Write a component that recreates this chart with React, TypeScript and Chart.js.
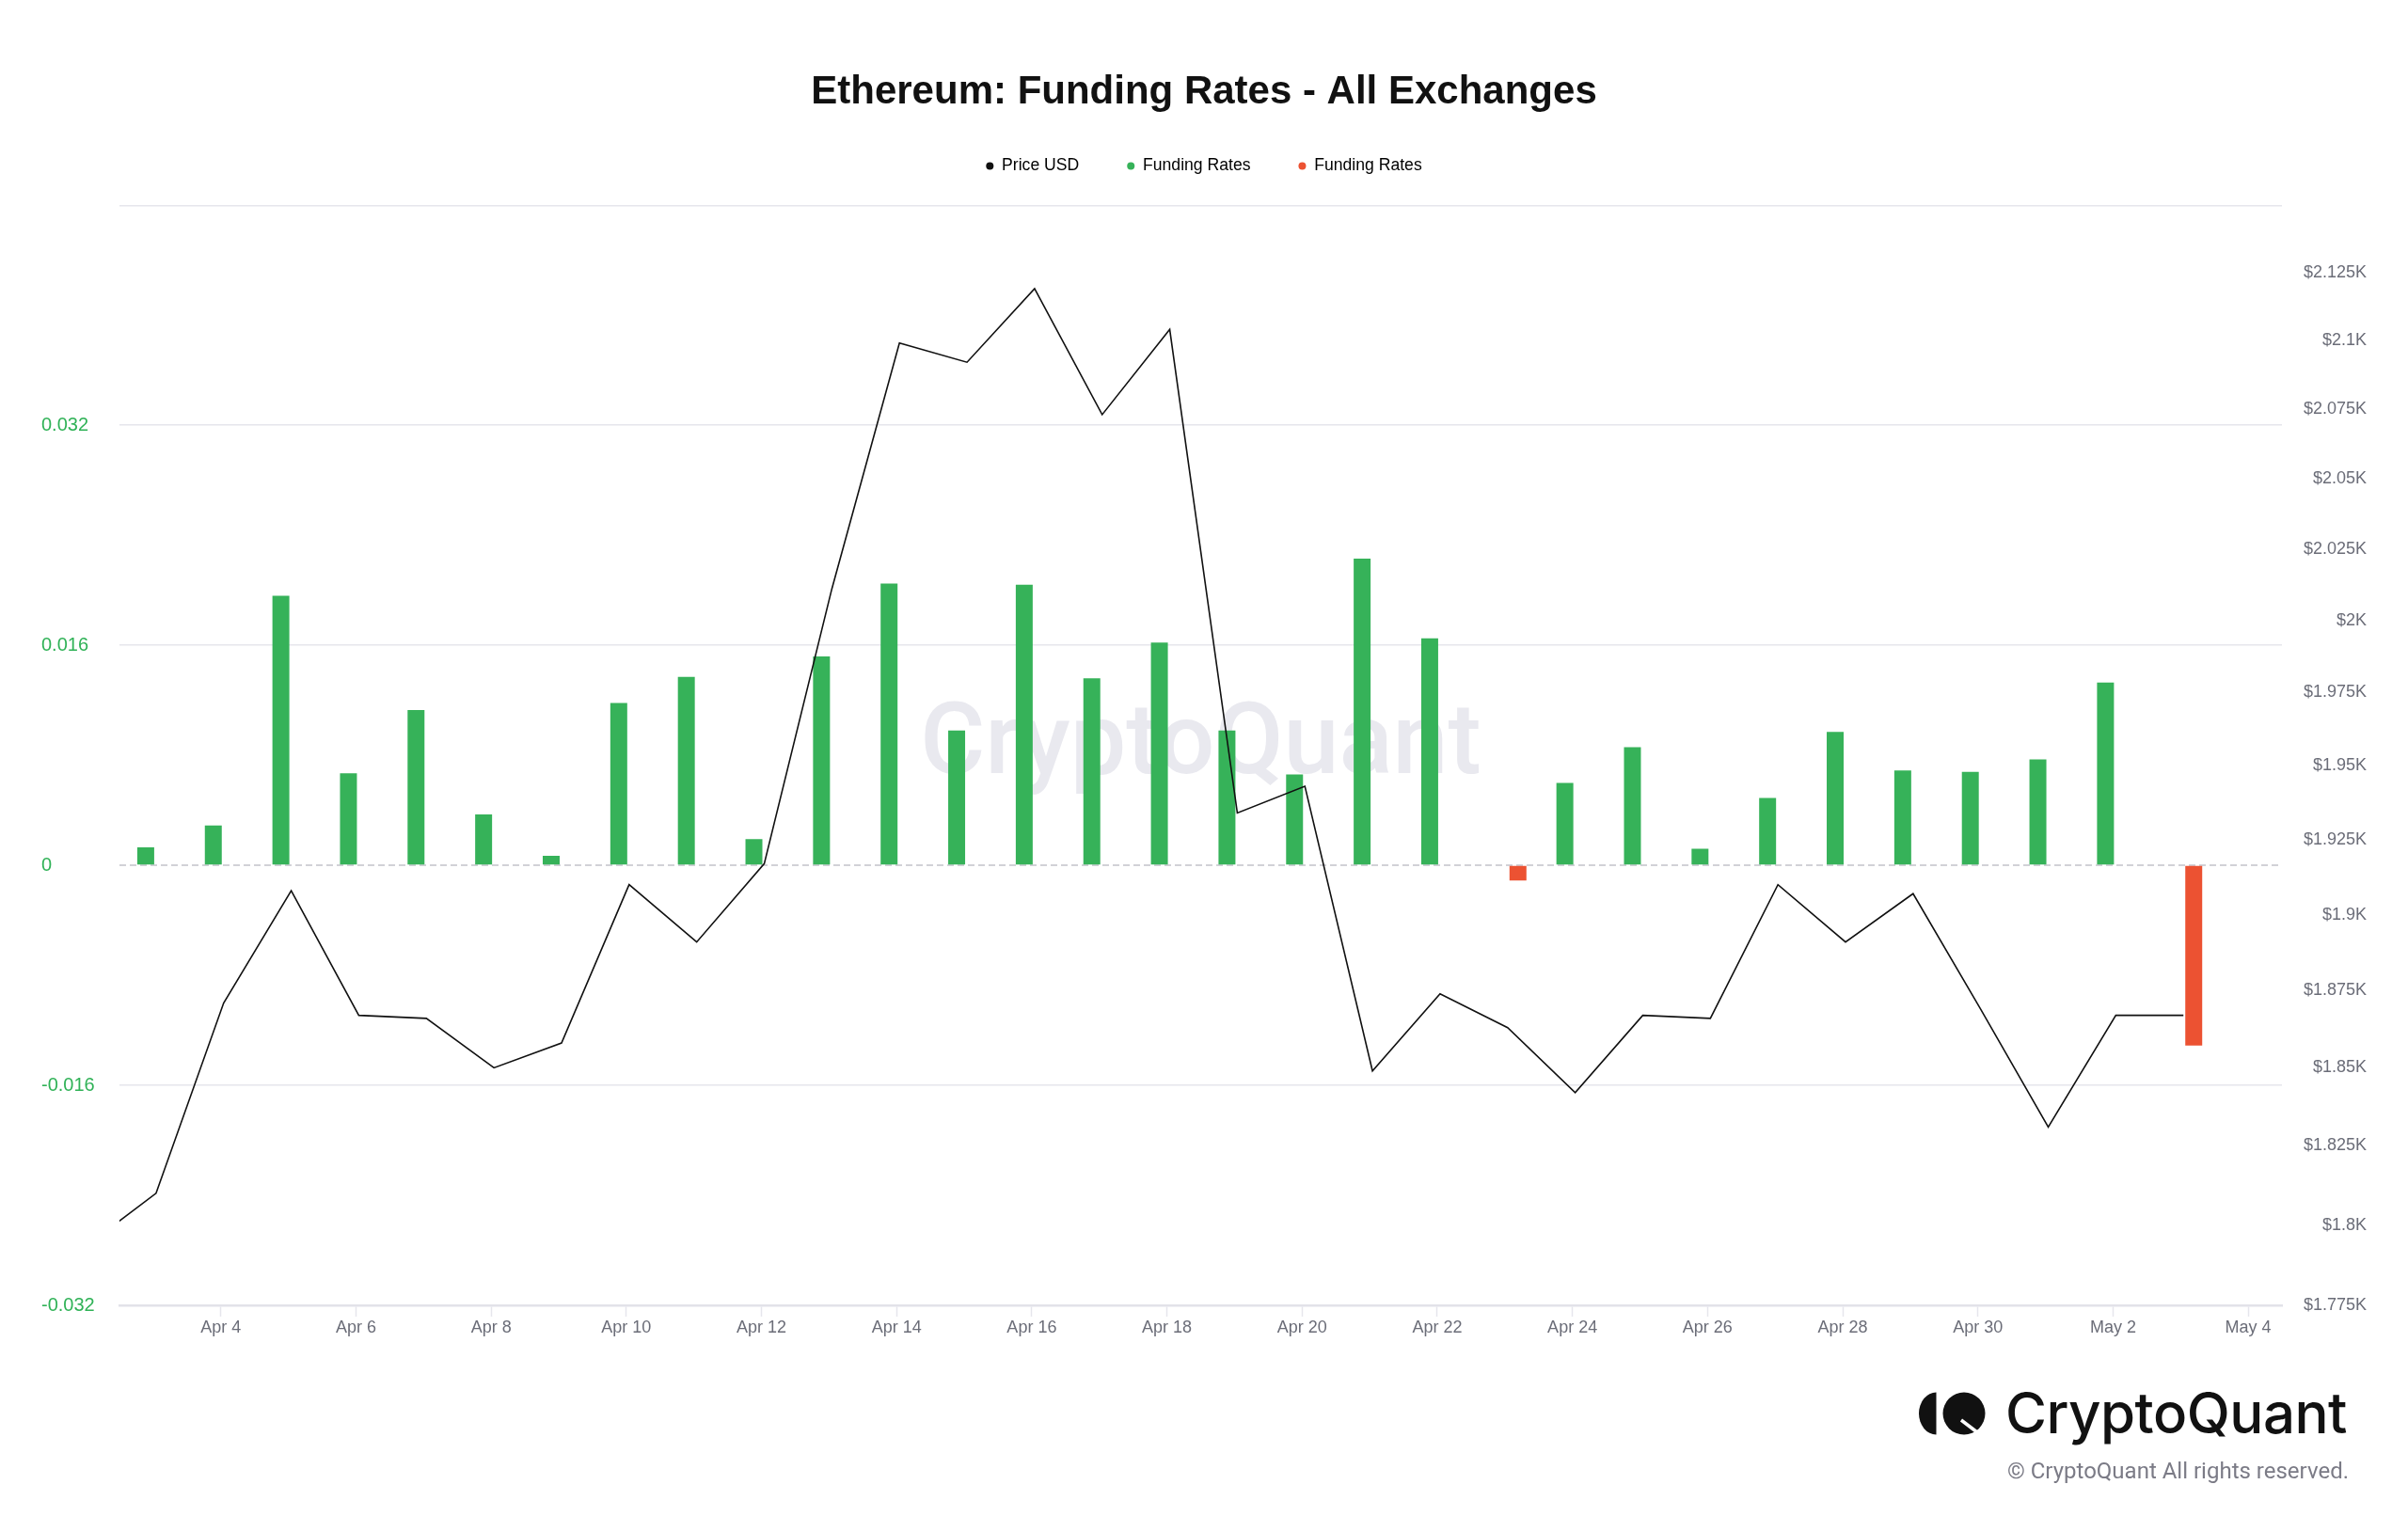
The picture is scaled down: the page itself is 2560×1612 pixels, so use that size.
import { useEffect, useRef } from "react";
import { Chart, registerables } from "chart.js";

Chart.register(...registerables);

const FONT = "'Liberation Sans', Arial, Helvetica, sans-serif";
Chart.defaults.font.family = FONT;

const DATES = [
    "2023-04-02", "2023-04-03", "2023-04-04", "2023-04-05", "2023-04-06", "2023-04-07",
    "2023-04-08", "2023-04-09", "2023-04-10", "2023-04-11", "2023-04-12", "2023-04-13",
    "2023-04-14", "2023-04-15", "2023-04-16", "2023-04-17", "2023-04-18", "2023-04-19",
    "2023-04-20", "2023-04-21", "2023-04-22", "2023-04-23", "2023-04-24", "2023-04-25",
    "2023-04-26", "2023-04-27", "2023-04-28", "2023-04-29", "2023-04-30", "2023-05-01",
    "2023-05-02", "2023-05-03",
];

const PRICE_USD = [
    1794, 1810, 1871, 1908, 1867, 1866, 1850, 1858, 1910, 1891, 1917, 2011,
    2099, 2092, 2119, 2073, 2104, 1934, 1943, 1849, 1874, 1863, 1842, 1867,
    1866, 1910, 1891, 1907, 1869, 1831, 1867, 1867,
];

const FUNDING_RATES: (number | null)[] = [
    null, 0.0013, 0.0029, 0.0196, 0.0067, 0.0113, 0.0037, 0.0007, 0.0118, 0.0137, 0.0019, 0.0152,
    0.0205, 0.0098, 0.0204, 0.0136, 0.0162, 0.0098, 0.0066, 0.0223, 0.0165, -0.0011, 0.006, 0.0086,
    0.0012, 0.0049, 0.0097, 0.0069, 0.0068, 0.0077, 0.0133, -0.0131,
];

const TICK_DATES = [
    "2023-04-04", "2023-04-06", "2023-04-08", "2023-04-10", "2023-04-12", "2023-04-14",
    "2023-04-16", "2023-04-18", "2023-04-20", "2023-04-22", "2023-04-24", "2023-04-26",
    "2023-04-28", "2023-04-30", "2023-05-02", "2023-05-04",
];
const TICK_LABELS = [
    "Apr 4", "Apr 6", "Apr 8", "Apr 10", "Apr 12", "Apr 14", "Apr 16", "Apr 18",
    "Apr 20", "Apr 22", "Apr 24", "Apr 26", "Apr 28", "Apr 30", "May 2", "May 4",
];

const RATE_TICKS = [-0.032, -0.016, 0, 0.016, 0.032, 0.048];
const RATE_TICK_LABELS = ["-0.032", "-0.016", "0", "0.016", "0.032", ""];

const PRICE_TICKS = [
    1775, 1800, 1825, 1850, 1875, 1900, 1925, 1950, 1975, 2000, 2025, 2050, 2075, 2100, 2125,
];
const PRICE_TICK_LABELS = [
    "$1.775K", "$1.8K", "$1.825K", "$1.85K", "$1.875K", "$1.9K", "$1.925K", "$1.95K",
    "$1.975K", "$2K", "$2.025K", "$2.05K", "$2.075K", "$2.1K", "$2.125K",
];

const SERIES_NAMES = ["Price USD", "Funding Rates", "Funding Rates"];
const SERIES_COLORS = ["#111111", "#36b259", "#ec5232"];

const GRID = "#e6e6ec";
const AXIS_TEXT = "#6b6d78";
const RATE_TEXT = "#30b257";

// data is stamped at 01:00 local time, axis runs from noon to noon
const DAY_MS = 86400000;
const STAMP_OFFSET = 1 / 24;
const toDay = (iso: string) => {
    const [y, m, d] = iso.split("-").map(Number);
    return (Date.UTC(y, m - 1, d) - Date.UTC(2023, 3, 0)) / DAY_MS;
};
const toX = (iso: string) => toDay(iso) + STAMP_OFFSET;

const backdrop = {
    id: "backdrop",
    beforeDatasetsDraw(chart: Chart) {
        const { ctx, chartArea: a, scales } = chart;
        ctx.save();
        ctx.font = "500 106px Roboto";
        ctx.fillStyle = "#e9e9ef";
        ctx.textAlign = "center";
        ctx.textBaseline = "middle";
        ctx.fillText("CryptoQuant", (a.left + a.right) / 2, (a.top + a.bottom) / 2 - 8);

        const y0 = scales.rate.getPixelForValue(0);
        ctx.strokeStyle = "#c2c2ca";
        ctx.lineWidth = 1.5;
        ctx.setLineDash([7, 4]);
        ctx.beginPath();
        ctx.moveTo(a.left, y0);
        ctx.lineTo(a.right, y0);
        ctx.stroke();
        ctx.restore();
    },
};

const FundingChart = () => {
    const canvasRef = useRef<HTMLCanvasElement | null>(null);

    useEffect(() => {
        document.body.style.margin = "0";
        document.body.style.overflow = "hidden";
        if (!canvasRef.current) return;
        const ctx = canvasRef.current.getContext("2d");
        if (!ctx) return;

        const price = DATES.map((d, i) => ({ x: toX(d), y: PRICE_USD[i] }));
        const positive = DATES.map((d, i) => {
            const v = FUNDING_RATES[i];
            return { x: toX(d), y: v !== null && v >= 0 ? v : null };
        });
        const negative = DATES.map((d, i) => {
            const v = FUNDING_RATES[i];
            return { x: toX(d), y: v !== null && v < 0 ? v : null };
        });

        const chart = new Chart(ctx, {
            type: "bar",
            data: {
                datasets: [
                    {
                        type: "line",
                        label: SERIES_NAMES[0],
                        data: price,
                        borderColor: SERIES_COLORS[0],
                        backgroundColor: SERIES_COLORS[0],
                        borderWidth: 1.6,
                        pointRadius: 0,
                        tension: 0,
                        yAxisID: "price",
                        order: 0,
                    },
                    {
                        type: "bar",
                        label: SERIES_NAMES[1],
                        data: positive,
                        backgroundColor: SERIES_COLORS[1],
                        categoryPercentage: 0.612,
                        barPercentage: 0.818,
                        yAxisID: "rate",
                        order: 1,
                    },
                    {
                        type: "bar",
                        label: SERIES_NAMES[2],
                        data: negative,
                        backgroundColor: SERIES_COLORS[2],
                        categoryPercentage: 0.612,
                        barPercentage: 0.818,
                        yAxisID: "rate",
                        order: 1,
                    },
                ] as any,
            },
            options: {
                animation: false,
                responsive: true,
                maintainAspectRatio: false,
                layout: { padding: { top: 0, left: 44, right: 44, bottom: 100 } },
                plugins: {
                    tooltip: { enabled: false },
                    title: {
                        display: true,
                        text: "Ethereum: Funding Rates - All Exchanges",
                        color: "#111111",
                        font: { size: 42, weight: "bold", lineHeight: 0.85 },
                        padding: { top: 81, bottom: 0 },
                    },
                    legend: {
                        display: true,
                        position: "top",
                        labels: {
                            usePointStyle: true,
                            pointStyle: "circle",
                            boxHeight: 5.66,
                            pointStyleWidth: 8,
                            padding: 51,
                            color: "#222222",
                            font: { size: 17.6 },
                            generateLabels: (c: Chart) =>
                                c.data.datasets.map((ds, i) => ({
                                    text: ds.label as string,
                                    fillStyle: SERIES_COLORS[i],
                                    strokeStyle: SERIES_COLORS[i],
                                    lineWidth: 0,
                                    pointStyle: "circle",
                                    hidden: false,
                                    datasetIndex: i,
                                })),
                        },
                    },
                    // empty block below the legend, keeps the plot clear of it
                    subtitle: {
                        display: true,
                        text: "",
                        weight: 500,
                        font: { size: 23, lineHeight: 1 },
                        padding: 0,
                    } as any,
                },
                scales: {
                    x: {
                        type: "linear",
                        min: toDay("2023-04-02") + 0.5,
                        max: toDay("2023-05-04") + 0.5,
                        offset: false,
                        afterBuildTicks: (s: any) => {
                            s.ticks = TICK_DATES.map((d) => ({ value: toDay(d) }));
                        },
                        afterFit: (s: any) => {
                            s.height = 124;
                        },
                        ticks: {
                            callback: (_v: any, i: number) => TICK_LABELS[i],
                            color: AXIS_TEXT,
                            font: { size: 18 },
                            padding: 1,
                            autoSkip: false,
                            maxRotation: 0,
                        },
                        grid: {
                            offset: false,
                            drawOnChartArea: false,
                            tickLength: 12,
                            tickColor: GRID,
                            tickWidth: 1.5,
                        },
                        border: { color: "#e2e2e9", width: 2.5 },
                    },
                    rate: {
                        type: "linear",
                        position: "left",
                        min: -0.032,
                        max: 0.048,
                        afterBuildTicks: (s: any) => {
                            s.ticks = RATE_TICKS.map((v) => ({ value: v }));
                        },
                        afterFit: (s: any) => {
                            s.width = 83;
                        },
                        ticks: {
                            callback: (_v: any, i: number) => RATE_TICK_LABELS[i],
                            color: RATE_TEXT,
                            font: { size: 20 },
                            crossAlign: "far",
                            autoSkip: false,
                        },
                        grid: {
                            color: (c: any) => (c.tick && c.tick.value === 0 ? "rgba(0,0,0,0)" : GRID),
                            lineWidth: 1.5,
                            drawTicks: false,
                        },
                        border: { display: false },
                    },
                    price: {
                        type: "logarithmic",
                        position: "right",
                        min: 1775,
                        max: 2150,
                        afterBuildTicks: (s: any) => {
                            s.ticks = PRICE_TICKS.map((v) => ({ value: v }));
                        },
                        afterFit: (s: any) => {
                            s.width = 90;
                        },
                        ticks: {
                            callback: (_v: any, i: number) => PRICE_TICK_LABELS[i],
                            color: AXIS_TEXT,
                            font: { size: 18 },
                            crossAlign: "far",
                            padding: 23,
                            autoSkip: false,
                        },
                        grid: { display: false, drawTicks: false },
                        border: { display: false },
                    },
                } as any,
            },
            plugins: [backdrop],
        });

        return () => {
            chart.destroy();
        };
    }, []);

    return <canvas ref={canvasRef}></canvas>;
};

const Logo = () => (
    <svg
        width="72"
        height="46"
        viewBox="0 0 72 46"
        style={{ position: "absolute", left: 2040, top: 1480 }}
    >
        <path d="M18.5 0.5 A18.5 22.5 0 0 0 18.5 45.5 Z" fill="#111111" />
        <circle cx="48" cy="23" r="22.5" fill="#111111" />
        <path d="M45 30 L62 43" stroke="#ffffff" strokeWidth="3.5" />
    </svg>
);

export default function App() {
    return (
        <div style={{ position: "relative", width: 2560, height: 1612, background: "#ffffff" }}>
            <FundingChart />
            <Logo />
            <div
                style={{
                    position: "absolute",
                    right: 65,
                    top: 1472,
                    font: "500 60px Inter",
                    lineHeight: "60px",
                    color: "#111111",
                    whiteSpace: "nowrap",
                    letterSpacing: "-0.5px",
                }}
            >
                CryptoQuant
            </div>
            <div
                style={{
                    position: "absolute",
                    right: 63,
                    top: 1552,
                    font: "24px Roboto",
                    lineHeight: "24px",
                    color: "#7b7b86",
                    whiteSpace: "nowrap",
                }}
            >
                © CryptoQuant All rights reserved.
            </div>
        </div>
    );
}
